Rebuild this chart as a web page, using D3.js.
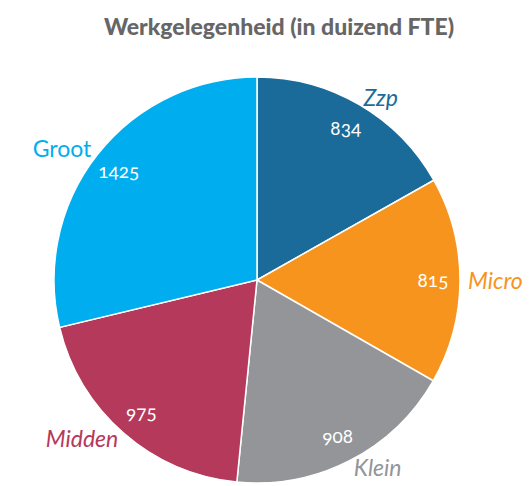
<!DOCTYPE html>
<html lang="nl">
<head>
<meta charset="utf-8">
<script src="https://d3js.org/d3.v7.min.js"></script>
<style>
  body { margin: 0; background: #fff; }
  svg text { font-family: Lato, "Open Sans", sans-serif; }
</style>
</head>
<body>
<script>
// data
const categories = ["Zzp", "Micro", "Klein", "Midden", "Groot"];
const values = [834, 815, 908, 975, 1425];
const colors = ["#1b6b9a", "#f7941d", "#939598", "#b5395b", "#00aeef"];
const italicLabel = [true, true, true, true, false];

const width = 531, height = 486;
const cx = 257, cy = 280, radius = 203;

const data = categories.map((c, i) => ({ name: c, value: values[i], color: colors[i], italic: italicLabel[i] }));

const svg = d3.select("body").append("svg")
    .attr("width", width)
    .attr("height", height);

// title
svg.append("text")
    .attr("x", 279)
    .attr("y", 35)
    .attr("text-anchor", "middle")
    .attr("font-size", 23)
    .attr("font-weight", 900)
    .attr("fill", "#666666")
    .text("Werkgelegenheid (in duizend FTE)");

const pie = d3.pie().sort(null).value(d => d.value);
const arcs = pie(data);

const arc = d3.arc().innerRadius(0).outerRadius(radius);
const valueArc = d3.arc().innerRadius(176).outerRadius(176);
const nameArc = d3.arc().innerRadius(211).outerRadius(211);

const g = svg.append("g").attr("transform", `translate(${cx},${cy})`);

g.selectAll("path.slice")
    .data(arcs)
    .join("path")
    .attr("class", "slice")
    .attr("d", arc)
    .attr("fill", d => d.data.color)
    .attr("stroke", "#fff")
    .attr("stroke-width", 1.5);

// values inside the slices
g.selectAll("text.value")
    .data(arcs)
    .join("text")
    .attr("class", "value")
    .attr("transform", d => `translate(${valueArc.centroid(d)})`)
    .attr("text-anchor", "middle")
    .attr("dy", "0.35em")
    .attr("font-size", 19)
    .attr("fill", "#fff")
    .style("font-variant-numeric", "oldstyle-nums")
    .text(d => d.data.value);

// category names outside
g.selectAll("text.name")
    .data(arcs)
    .join("text")
    .attr("class", "name")
    .attr("transform", d => `translate(${nameArc.centroid(d)})`)
    .attr("text-anchor", d => {
        const s = Math.sin((d.startAngle + d.endAngle) / 2);
        return s > 0.3 ? "start" : (s < -0.3 ? "end" : "middle");
    })
    .attr("dy", "0.35em")
    .attr("font-size", 23)
    .attr("font-style", d => d.data.italic ? "italic" : "normal")
    .attr("fill", d => d.data.color)
    .text(d => d.data.name);
</script>
</body>
</html>
